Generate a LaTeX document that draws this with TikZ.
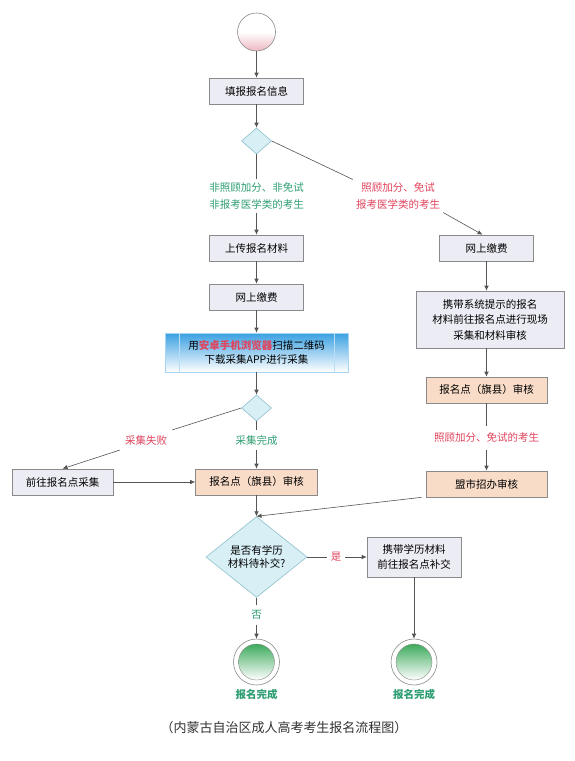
\documentclass[tikz,border=0pt]{standalone}
\usepackage{fontspec}
\setmainfont{Noto Sans CJK SC}
\usetikzlibrary{arrows.meta,shapes.geometric,calc}
\definecolor{boxfill}{HTML}{ECECF4}
\definecolor{boxline}{HTML}{8A8A8A}
\definecolor{orfill}{HTML}{F8DCC8}
\definecolor{dfill}{HTML}{D8EFF5}
\definecolor{dline}{HTML}{8CBFCC}
\definecolor{grn}{HTML}{2E9E72}
\definecolor{rd}{HTML}{E0435C}
\definecolor{blu}{HTML}{3AA0E2}
\definecolor{endgreen}{HTML}{3DAA5C}
\definecolor{pinkb}{HTML}{EDB8C2}
\definecolor{lnk}{HTML}{555555}
\begin{document}
\begin{tikzpicture}[x=1pt,y=-1pt,
  font=\fontsize{10.5}{13}\selectfont,
  box/.style={draw=boxline, fill=boxfill, line width=0.6pt, minimum height=26pt, inner sep=2pt, align=center},
  obox/.style={box, fill=orfill},
  dia/.style={diamond, draw=dline, fill=dfill, line width=0.6pt, inner sep=0pt, align=center},
  lbl/.style={align=center, inner sep=3pt, font=\fontsize{10.5}{17}\selectfont},
  conn/.style={draw=lnk, line width=0.6pt},
  arr/.style={conn, -{Latex[length=5pt,width=4.5pt]}},
  endc/.style={circle, draw=boxline, fill=white, minimum size=46pt, inner sep=0pt, line width=0.6pt},
  endl/.style={text=grn, font=\fontsize{10.5}{13}\selectfont\bfseries}
]
\useasboundingbox (0,0) rectangle (574,761);
\fill[white] (0,0) rectangle (574,761);

% left column
\node[circle, draw=boxline, line width=0.6pt, minimum size=38pt, inner sep=0pt, top color=white, bottom color=pinkb, middle color=white] (start) at (256.5,32) {};
\node[box, minimum width=94pt] (fill) at (256.5,91) {填报报名信息};
\node[dia, minimum width=30pt, minimum height=26pt] (d1) at (256.5,141) {};
\node[lbl, text=grn] (glbl) at (256.5,196) {非照顾加分、非免试\\非报考医学类的考生};
\node[lbl, text=rd] (rlbl) at (398,196) {照顾加分、免试\\报考医学类的考生};
\node[box, minimum width=94pt] (upload) at (256.5,248) {上传报名材料};
\node[box, minimum width=94pt] (pay1) at (256.5,297) {网上缴费};
\node[draw=blu!45, line width=0.6pt, minimum width=183pt, minimum height=39pt, inner sep=0pt, align=center,
  top color=blu, bottom color=white, middle color=blu!50!white, font=\fontsize{10.5}{14}\selectfont] (blue) at (256.5,352.5)
  {用{\color{rd}\bfseries 安卓手机浏览器}扫描二维码\\下载采集APP进行采集};
\draw[blu!35, line width=0.5pt] ($(blue.north west)+(15,0)$) -- ($(blue.south west)+(15,0)$);
\draw[blu!35, line width=0.5pt] ($(blue.north east)+(-14,0)$) -- ($(blue.south east)+(-14,0)$);
\node[dia, minimum width=30pt, minimum height=26pt] (d2) at (256.5,408) {};
\node[lbl, text=rd, inner sep=5pt] (fail) at (146,440) {采集失败};
\node[lbl, text=grn, inner sep=5pt] (ok) at (256.5,440) {采集完成};
\node[box, minimum width=101pt] (goto) at (62.5,482) {前往报名点采集};
\node[obox, minimum width=122pt] (audit1) at (256.5,482) {报名点（旗县）审核};
\node[dia, minimum width=101pt, minimum height=68pt, font=\fontsize{10.5}{13.5}\selectfont] (d3) at (256.5,557) {是否有学历\\材料待补交?};
\node[lbl, text=rd, inner sep=4pt] (yes) at (336,557) {是};
\node[lbl, text=grn, inner sep=5pt] (no) at (256.5,615) {否};
\node[endc] (end1) at (256.5,662) {};
\node[endl] (done1) at (256.5,694) {报名完成};

% right column
\node[box, minimum width=94pt] (pay2) at (486.5,248) {网上缴费};
\node[box, minimum width=148pt, minimum height=57pt, font=\fontsize{10.5}{15.5}\selectfont] (carry) at (490,319.5) {携带系统提示的报名\\材料前往报名点进行现场\\采集和材料审核};
\node[obox, minimum width=121pt] (audit2) at (486.5,390) {报名点（旗县）审核};
\node[lbl, text=rd, inner sep=7pt] (rlbl2) at (486.5,438) {照顾加分、免试的考生};
\node[obox, minimum width=121pt] (city) at (486.5,484) {盟市招办审核};
\node[box, minimum width=94pt, minimum height=40pt, font=\fontsize{10.5}{15}\selectfont] (carry2) at (414,557) {携带学历材料\\前往报名点补交};
\node[endc] (end2) at (414,662) {};
\node[endl] (done2) at (414,694) {报名完成};

% inner shaded discs of end circles
\shade[top color=endgreen, middle color=endgreen!70!white, bottom color=white, draw=boxline, line width=0.4pt] (end1.center) circle (18pt);
\shade[top color=endgreen, middle color=endgreen!70!white, bottom color=white, draw=boxline, line width=0.4pt] (end2.center) circle (18pt);

% caption
\node[text=black!80, font=\fontsize{13}{15}\selectfont] (cap) at (284,728) {（内蒙古自治区成人高考考生报名流程图）};

% connectors
\draw[arr] (start) -- (fill);
\draw[arr] (fill) -- (d1);
\draw[conn] (d1.south) -- (glbl.north);
\draw[arr] (glbl.south) -- (upload.north);
\draw[conn] (d1.east) -- (rlbl.north west);
\draw[arr] (rlbl.south east) -- ($(pay2.north)+(-4,0)$);
\draw[arr] (upload) -- (pay1);
\draw[arr] (pay1) -- (blue);
\draw[arr] (blue) -- (d2);
\draw[conn] (d2.west) -- (fail.north east);
\draw[arr] (fail.south west) -- (goto.north);
\draw[conn] (d2.south) -- (ok.north);
\draw[arr] (ok.south) -- (audit1.north);
\draw[arr] (goto) -- (audit1);
\draw[arr] (audit1) -- (d3);
\draw[arr] (pay2.south) -- (pay2.south |- carry.north);
\draw[arr] (audit2.north |- carry.south) -- (audit2.north);
\draw[conn] (audit2.south) -- (rlbl2.north);
\draw[arr] (rlbl2.south) -- (city.north);
\draw[arr] ($(city.south west)+(-4,0)$) -- (d3.north);
\draw[conn] (d3.east) -- (yes.west);
\draw[arr] (yes.east) -- (carry2.west);
\draw[conn] (d3.south) -- (no.north);
\draw[arr] (no.south) -- (end1.north);
\draw[arr] (carry2.south) -- (end2.north);
\end{tikzpicture}
\end{document}
